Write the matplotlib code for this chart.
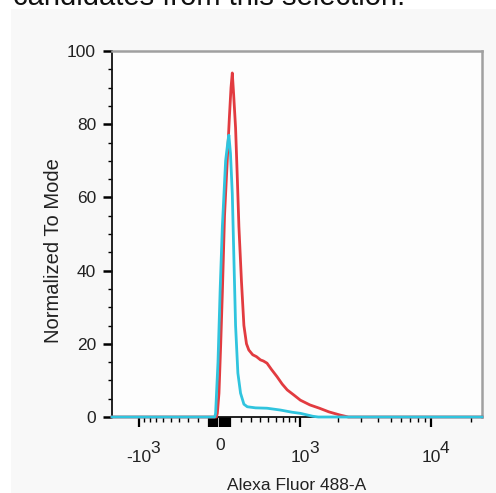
import numpy as np
import matplotlib
matplotlib.use("Agg")
import matplotlib.pyplot as plt
from matplotlib.patches import Rectangle
from matplotlib.ticker import FixedLocator, NullFormatter

plt.rcParams['font.family'] = ['Liberation Sans', 'DejaVu Sans']

# ---- data ----
red_x = [-1650, -30, -21, -6, 10, 25, 45, 70, 90, 105, 117, 130, 148, 165, 180,
         205, 229, 255, 279, 320, 360, 406, 440, 484, 540, 616, 690, 768, 880,
         1000, 1200, 1431, 1700, 2090, 2400, 24000]
red_y = [0, 0, 1, 6.5, 20, 34, 55, 70, 82, 90, 94, 88, 79, 65, 52,
         37, 25, 20, 18.3, 17, 16.5, 15.6, 15.3, 14.7, 13, 11, 9, 7.4, 6,
         4.6, 3.3, 2.4, 1.4, 0.5, 0, 0]

cyan_x = [-1650, -45, -37, -15, 5, 25, 55, 75, 85, 100, 117, 135, 148, 170,
          196, 229, 263, 350, 484, 664, 850, 1000, 1268, 1400, 24000]
cyan_y = [0, 0, 1, 15, 35, 52, 70, 75, 77, 72, 61, 40, 25, 12,
          6.5, 3.5, 2.8, 2.5, 2.4, 1.9, 1.3, 1, 0.2, 0, 0]

x_major = [-1000, 0, 1000, 10000]
x_major_base = ["-10", "0", "10", "10"]
x_major_exp = ["3", "", "3", "4"]
y_ticks = [0, 20, 40, 60, 80, 100]

W = 535.0
def fwd(x):
    return np.arcsinh(np.asarray(x, dtype=float) / W)
def inv(y):
    return W * np.sinh(np.asarray(y, dtype=float))

fig = plt.figure(figsize=(4.96, 4.93), dpi=100)
fig.patch.set_facecolor('white')
fig.patches.append(Rectangle((11/496, 0), 1, 1 - 9/493, transform=fig.transFigure,
                             facecolor='#f8f8f8', edgecolor='none', zorder=-10))
fig.text(13/496, 1 - 5/493, "candidates from this selection.", fontsize=21,
         va='baseline', ha='left', color='#111111')

ax = fig.add_axes([112/496, 1 - 417/493, 370/496, 366/493])
ax.set_facecolor('#fdfdfd')
ax.set_xscale('function', functions=(fwd, inv))
ax.set_xlim(-1650, 24000)
ax.set_ylim(0, 100)

ax.plot(red_x, red_y, color='#e23b40', lw=2.0, zorder=3, clip_on=False)
ax.plot(cyan_x, cyan_y, color='#30c4de', lw=2.0, zorder=4, clip_on=False)

for s in ['top', 'right']:
    ax.spines[s].set_color('#a0a0a0')
    ax.spines[s].set_linewidth(1.8)
for s in ['left', 'bottom']:
    ax.spines[s].set_color('#111111')
    ax.spines[s].set_linewidth(1.3)

# x ticks
near0 = [v for v in range(-100, 101, 20)]
majors = sorted(set(x_major + near0))
minors = [v for v in range(-900, -100, 100)] + [v for v in range(200, 1000, 100)] + \
         [v for v in range(2000, 10000, 1000)] + [20000]
ax.xaxis.set_major_locator(FixedLocator(majors))
ax.xaxis.set_minor_locator(FixedLocator(minors))
ax.xaxis.set_major_formatter(NullFormatter())
ax.xaxis.set_minor_formatter(NullFormatter())
ax.tick_params(axis='x', which='major', length=7, width=1.6, color='black', direction='out')
ax.tick_params(axis='x', which='minor', length=3.5, width=1.0, color='black', direction='out')

trans = ax.get_xaxis_transform()
for v, b, e in zip(x_major, x_major_base, x_major_exp):
    if e:
        t = ax.annotate(b, xy=(v, 0), xycoords=trans, xytext=(0, -40),
                        textcoords='offset pixels', ha='center', va='center',
                        fontsize=12.5, color='#222222')
        ax.annotate(e, xy=(1, 1), xycoords=t, xytext=(-1, 1),
                    textcoords='offset pixels', ha='left', va='center',
                    fontsize=12.5, color='#222222')
    else:
        ax.annotate(b, xy=(v, 0), xycoords=trans, xytext=(1, -28),
                    textcoords='offset pixels', ha='center', va='center',
                    fontsize=12.5, color='#222222')

# y ticks
ax.set_yticks(y_ticks)
ax.set_yticks(np.arange(0, 101, 5), minor=True)
ax.tick_params(axis='y', which='major', length=6.5, width=1.8, color='black',
               labelsize=12.5, labelcolor='#222222', pad=5)
ax.tick_params(axis='y', which='minor', length=3, width=1.0, color='black')

ax.set_xlabel("Alexa Fluor 488-A", fontsize=12.5, color='#222222')
ax.xaxis.set_label_coords(0.5, -0.166)
ax.set_ylabel("Normalized To Mode", fontsize=14.5, color='#222222')
ax.yaxis.set_label_coords(-0.133, 0.455)

fig.savefig("out.png", dpi=100)
